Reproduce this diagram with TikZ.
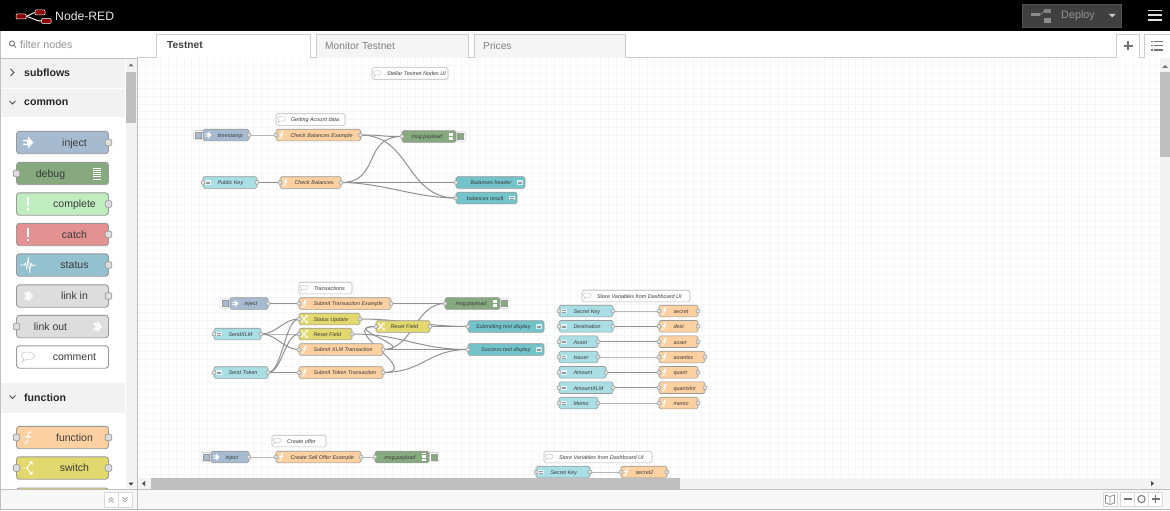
\documentclass[tikz,border=0pt]{standalone}
\usepackage{fontspec}
\setmainfont{Liberation Sans}
\usetikzlibrary{calc}
\pgfdeclarelayer{bg}\pgfdeclarelayer{wires}
\pgfsetlayers{bg,wires,main}
\definecolor{cinject}{HTML}{A6BBCF}
\definecolor{cdebug}{HTML}{87A980}
\definecolor{ccomplete}{HTML}{C0EDC0}
\definecolor{ccatch}{HTML}{E49191}
\definecolor{cstatus}{HTML}{94C1D0}
\definecolor{clink}{HTML}{DDDDDD}
\definecolor{cfunc}{HTML}{FDD0A2}
\definecolor{cswitch}{HTML}{E2D96E}
\definecolor{cinput}{HTML}{A9DEE5}
\definecolor{cout}{HTML}{72C3CA}
\definecolor{cborder}{HTML}{999999}
\definecolor{ctxt}{HTML}{3A3A3A}
\tikzset{
 fnode/.style={draw=cborder,line width=.6pt,rounded corners=1.6pt,inner sep=0pt,outer sep=0pt,anchor=west,font=\fontsize{5.45}{6}\selectfont\itshape,text=ctxt,text height=4.8pt,text depth=0pt},
 pnode/.style={draw=cborder,line width=.9pt,rounded corners=3pt,inner sep=0pt,outer sep=0pt,anchor=west,font=\fontsize{10.5}{12}\selectfont,text=ctxt,text height=8.5pt,text depth=1.5pt},
 port/.style={draw=cborder,fill=clink!85!white,line width=.5pt,circle,inner sep=0pt,minimum size=4pt},
 pport/.style={draw=cborder,fill=clink,line width=.7pt,rounded corners=1.5pt,inner sep=0pt,minimum size=6.6pt},
 wire/.style={draw=cborder!95!black,line width=1pt},
 ico/.style={fill=white,draw=none},
 icl/.style={draw=white,line width=.8pt,line cap=round},
 chrome/.style={inner sep=0pt,anchor=west},
 gridline/.style={draw=black!3.5,line width=.7pt}
}
% icons, centred on (0,0), about 10 units high
\newcommand{\icF}{\draw[icl,line width=1pt] (2.6,-4.8) .. controls (.4,-5.4) and (.2,-3) .. (0,0) .. controls (-.2,3) and (-.4,5.2) .. (-2.6,4.8) (-2.2,-.8) -- (2.2,-.8);}
\newcommand{\icArrow}{\fill[white] (-4,-2.2) -- (0,-2.2) -- (0,-5) -- (4.4,0) -- (0,5) -- (0,2.2) -- (-4,2.2) -- (-4,.9) -- (-.8,.9) -- (-.8,-.9) -- (-4,-.9) -- cycle;}
\newcommand{\icLink}{\fill[white,opacity=.85] (-3.6,-3) -- (0,-3) -- (0,-5) -- (4.4,0) -- (0,5) -- (0,3) -- (-3.6,3) -- (-1.2,0) -- cycle;}
\newcommand{\icDebug}{\foreach \q in {-4.6,-2.7,-.9,.9,2.7,4.6}{\draw[white,line width=.8pt] (-3.4,\q) -- (3.4,\q);}}
\newcommand{\icAlert}{\fill[white] (-1.2,-5.5) rectangle (1.2,2); \fill[white] (-1.2,3.4) rectangle (1.2,5.8);}
\newcommand{\icWave}{\draw[white,line width=.7pt,line join=round] (-6.5,0) -- (-3.2,0) -- (-2.2,-2) -- (-1,3.5) -- (.2,-6.5) -- (1.4,6.5) -- (2.4,-2) -- (3.4,1) -- (4.2,0) -- (6.5,0);}
\newcommand{\icBubble}{\draw[black!22,line width=.5pt] (-5.5,-2) .. controls (-5.5,-5) and (5.5,-5) .. (5.5,-.8) .. controls (5.5,2) and (-.5,2.6) .. (-2,2.2) -- (-4.8,4) -- (-3.6,1.6) .. controls (-5,.8) and (-5.5,-.4) .. (-5.5,-2);}
\newcommand{\icSwitch}{\draw[icl,line width=.9pt] (-4,0) -- (-1,0) -- (2.5,-4.5) (-1,0) -- (2.5,4.5);\fill[white] (1,-5.5) -- (3.8,-5.5) -- (3.8,-2.5) -- cycle (1,5.5) -- (3.8,5.5) -- (3.8,2.5) -- cycle;}
\newcommand{\icChange}{\draw[icl,line width=.9pt] (-4,-4) -- (3,4) (-4,4) -- (3,-4);\fill[white] (1.5,-5.5) -- (4.5,-5.5) -- (4.5,-2.2) -- cycle (1.5,5.5) -- (4.5,5.5) -- (4.5,2.2) -- cycle;}
\newcommand{\icUi}{\fill[white,opacity=.7] (-4.2,-3) rectangle (4.2,3.2);\draw[cborder,line width=.3pt] (-3,-.8) -- (3,-.8) (-3,1) -- (3,1);}
% canvas node: id, x1, x2, yc, colour, label, icon macro
\newcommand{\LN}[8][both]{%
 \node[fnode,fill=#6,minimum width=#3pt-#2pt,minimum height=11.6pt,
  path picture={\fill[black,opacity=.08] (#2,#4-7) rectangle (#2+10.5,#4+7);}] (#5) at (#2,#4)
  {\makebox[\dimexpr#3pt-#2pt\relax][l]{\hspace*{14.5pt}#7}};
 \begin{scope}[shift={(#2+5.3,#4)},scale=.72]#8\end{scope}
 \ifnum\pdfstrcmp{#1}{out}=0\else\node[port] (#5-i) at (#5.west) {};\fi
 \ifnum\pdfstrcmp{#1}{in}=0\else\node[port] (#5-o) at (#5.east) {};\fi
}
% icon on the right, input port
\newcommand{\RN}[7]{%
 \node[fnode,fill=#5,minimum width=#3pt-#2pt,minimum height=11.6pt,
  path picture={\fill[black,opacity=.08] (#3-10,#4-7) rectangle (#3,#4+7);}] (#1) at (#2,#4)
  {\makebox[\dimexpr#3pt-#2pt\relax][r]{#6\hspace*{13.5pt}}};
 \begin{scope}[shift={(#3-5,#4)},scale=.72]#7\end{scope}
 \node[port] (#1-i) at (#1.west) {};
}
% comment: id, x1, x2, yc, text
\newcommand{\CM}[5]{%
 \node[fnode,draw=black!28,fill=white,minimum width=#3pt-#2pt,minimum height=11.6pt,
  path picture={\fill[black,opacity=.05] (#2,#4-7) rectangle (#2+10.5,#4+7);}] (#1) at (#2,#4)
  {\makebox[\dimexpr#3pt-#2pt\relax][l]{\hspace*{15pt}#5}};
 \begin{scope}[shift={(#2+5.3,#4)},scale=.72]\icBubble\end{scope}
}
% inject button (left) and debug button (right)
\newcommand{\BTN}[4]{%
 \node[draw=black!28,fill=white,rounded corners=1.5pt,inner sep=0pt,minimum width=10pt,minimum height=9.4pt] (#1) at (#2,#3) {};
 \fill[#4,draw=cborder,line width=.25pt] (#2-2.9,#3-2.9) rectangle (#2+2.9,#3+2.9);
}
% palette nodes: id, x1, x2, yc, colour, label, icon
\newcommand{\PL}[7]{%
 \node[pnode,fill=#5,minimum width=#3pt-#2pt,minimum height=22.4pt,
  path picture={\fill[black,opacity=.08] (#2,#4-12) rectangle (#2+24,#4+12);}] (#1) at (#2,#4)
  {\makebox[\dimexpr#3pt-#2pt\relax][c]{\hspace*{24pt}#6}};
 \begin{scope}[shift={(#2+11.5,#4)},scale=1.2]#7\end{scope}
}
\newcommand{\PR}[7]{%
 \node[pnode,fill=#5,minimum width=#3pt-#2pt,minimum height=22.4pt,
  path picture={\fill[black,opacity=.08] (#3-24,#4-12) rectangle (#3,#4+12);}] (#1) at (#2,#4)
  {\makebox[\dimexpr#3pt-#2pt\relax][c]{#6\hspace*{24pt}}};
 \begin{scope}[shift={(#3-11.5,#4)},scale=1.2]#7\end{scope}
}
\newcommand{\WW}[3][22]{\draw[wire] (#2.east) .. controls +(#1,0) and +(-#1,0) .. (#3.west);}
\begin{document}
\begin{tikzpicture}[x=1pt,y=-1pt]
\useasboundingbox (0,0) rectangle (1170,511);
\begin{pgfonlayer}{bg}
 \fill[white] (0,0) rectangle (1170,511);
 \foreach \i in {0,...,132}{\draw[gridline] (137.6+7.72*\i,58) -- (137.6+7.72*\i,478);}
 \foreach \i in {0,...,54}{\draw[gridline] (137,57.8+7.72*\i) -- (1170,57.8+7.72*\i);}
\end{pgfonlayer}

%----- flow 1
\CM{c0}{372}{448}{73.5}{Stellar Testnet Nodes UI}
\CM{c1}{276}{345}{119.5}{Getting Acount data}
\BTN{b1}{198.5}{135}{cinject}
\LN[out]{203}{249}{135}{t1}{cinject}{timestamp}{\icArrow}
\LN{276}{360.5}{135}{f1}{cfunc}{Check Balances Example}{\icF}
\BTN{b2}{460.5}{136.5}{cdebug}
\RN{d1}{402}{456}{136.5}{cdebug}{msg.payload}{\icDebug}
\LN{203}{257}{182.5}{p1}{cinput}{Public Key}{\icUi}
\LN{280}{341}{182.5}{f2}{cfunc}{Check Balances}{\icF}
\RN{u1}{456}{525}{182.5}{cout}{Balances header}{\icUi}
\RN{u2}{456}{517}{198}{cout}{balances result}{\icUi}

%----- flow 2
\CM{c2}{299}{352}{288}{Transactions}
\BTN{b3}{225}{303.5}{cinject}
\LN[out]{230}{268}{303.5}{t2}{cinject}{inject}{\icArrow}
\LN{299}{391}{303.5}{f3}{cfunc}{Submit Transaction Example}{\icF}
\BTN{b4}{504}{303.5}{cdebug}
\RN{d2}{445}{500}{303.5}{cdebug}{msg.payload}{\icDebug}
\LN{299}{360}{319}{s1}{cswitch}{Status Update}{\icChange}
\LN{299}{352}{334}{s2}{cswitch}{Reset Field}{\icChange}
\LN{376}{430}{326.5}{s3}{cswitch}{Reset Field}{\icChange}
\LN{214}{261}{334}{k1}{cinput}{SendXLM}{\icUi}
\LN{299}{383}{349.5}{f4}{cfunc}{Submit XLM Transaction}{\icF}
\LN{214}{268}{372.5}{k2}{cinput}{Send Token}{\icUi}
\LN{299}{383}{372.5}{f5}{cfunc}{Submit Token Transaction}{\icF}
\RN{u3}{468}{544}{326.5}{cout}{Submitting text display}{\icUi}
\RN{u4}{468}{544}{349.5}{cout}{Success text display}{\icUi}

%----- store variables
\CM{c3}{582}{690}{296}{Store Variables from Dashboard UI}
\LN{559}{613}{311}{v1}{cinput}{Secret Key}{\icUi}
\LN{559}{613}{326.3}{v2}{cinput}{Destination}{\icUi}
\LN{559}{598}{341.7}{v3}{cinput}{Asset}{\icUi}
\LN{559}{598}{357}{v4}{cinput}{Issuer}{\icUi}
\LN{559}{606}{372.3}{v5}{cinput}{Amount}{\icUi}
\LN{559}{613}{387.7}{v6}{cinput}{AmountXLM}{\icUi}
\LN{559}{598}{403}{v7}{cinput}{Memo}{\icUi}
\LN{659}{698}{311}{w1}{cfunc}{secret}{\icF}
\LN{659}{698}{326.3}{w2}{cfunc}{dest}{\icF}
\LN{659}{698}{341.7}{w3}{cfunc}{asset}{\icF}
\LN{659}{705}{357}{w4}{cfunc}{assetiss}{\icF}
\LN{659}{698}{372.3}{w5}{cfunc}{quant}{\icF}
\LN{659}{705}{387.7}{w6}{cfunc}{quantxlm}{\icF}
\LN{659}{698}{403}{w7}{cfunc}{memo}{\icF}

%----- flow 3
\CM{c4}{272}{326}{441}{Create offer}
\BTN{b5}{206}{457}{cinject}
\LN[out]{211}{249}{457}{t3}{cinject}{inject}{\icArrow}
\LN{276}{361}{457}{f6}{cfunc}{Create Sell Offer Example}{\icF}
\BTN{b6}{434}{457}{cdebug}
\RN{d3}{375}{429}{457}{cdebug}{msg.payload}{\icDebug}
\CM{c5}{544}{652}{457}{Store Variables from Dashboard UI}
\LN{536}{590}{472}{v8}{cinput}{Secret Key}{\icUi}
\LN{621}{667}{472}{w8}{cfunc}{secret2}{\icF}

%----- wires
\begin{pgfonlayer}{wires}
 \WW{t1}{f1} \WW[26]{f1}{d1} \WW[50]{f1}{u2}
 \WW{p1}{f2} \WW[40]{f2}{d1} \WW[40]{f2}{u1} \WW[40]{f2}{u2}
 \WW{t2}{f3} \WW[26]{f3}{d2}
 \WW{t3}{f6} \WW[8]{f6}{d3}
 \WW[16]{k1}{s1} \WW[16]{k1}{s2} \WW[16]{k1}{f4}
 \WW[14]{k2}{s1} \WW[14]{k2}{s2} \WW[14]{k2}{f5}
 \WW[40]{s1}{u3} \WW[50]{s2}{u4}
 \WW[14]{s3}{u3}
 \WW[38]{f4}{s3} \WW[30]{f4}{d2} \WW[30]{f4}{u4}
 \WW[42]{f5}{s3} \WW[40]{f5}{u4}
 \foreach \n in {1,...,8}{\WW[25]{v\n}{w\n}}
\end{pgfonlayer}

%----- canvas scrollbars and footer
\fill[black!5] (137,478) rectangle (1170,489);
\fill[black!25] (151,478) rectangle (680,489);
\fill[black!70] (142,483.5) -- (145,481) -- (145,486) -- cycle;
\fill[black!70] (1154,483.5) -- (1151,481) -- (1151,486) -- cycle;
\fill[black!5] (1160,58) rectangle (1170,478);
\fill[black!25] (1160,72) rectangle (1170,157);
\fill[black!55] (1165,65) -- (1162,68) -- (1168,68) -- cycle;
\fill[black!3] (0,489) rectangle (1170,508.5);
\draw[black!25,line width=.8pt] (0,489) -- (1170,489);
\draw[black!28,line width=.9pt] (0,509) -- (1170,509);
\node[draw=black!15,fill=white,inner sep=0pt,minimum width=14pt,minimum height=14pt] (zmap) at (1110,499) {};
\draw[black!45,line width=.7pt,line join=round] (1105.5,495) -- (1110,496.5) -- (1114.5,495) -- (1114.5,503) -- (1110,504.5) -- (1105.5,503) -- cycle (1110,496.5) -- (1110,504.5);
\node[draw=black!15,fill=white,inner sep=0pt,minimum width=14pt,minimum height=14pt] (zm) at (1127.5,499) {};
\node[draw=black!15,fill=white,inner sep=0pt,minimum width=14pt,minimum height=14pt] (zr) at (1141.5,499) {};
\node[draw=black!15,fill=white,inner sep=0pt,minimum width=14pt,minimum height=14pt] (zp) at (1155.5,499) {};
\draw[black!55,line width=1.6pt] (1123.5,499) -- (1131.5,499) (1151.5,499) -- (1159.5,499) (1155.5,495) -- (1155.5,503);
\draw[black!55,line width=1pt] (1141.5,499) circle (3.6pt);

%----- palette
\fill[white] (0,31) rectangle (137,489);
\draw[black!25,line width=.8pt] (137,31) -- (137,511);
\draw[black!25,line width=.8pt] (.5,31) -- (.5,509);
\draw[black!25,line width=.8pt] (0,58.5) -- (137,58.5);
\fill[black!5] (1,59) rectangle (125,87.5);
\fill[black!5] (1,88.5) rectangle (125,116.5);
\fill[black!5] (1,383) rectangle (125,413);
\fill[black!5] (125.5,59) rectangle (137,489);
\fill[black!25] (126,72) rectangle (136,123);
\fill[black!55] (131,63.5) -- (128.5,66.5) -- (133.5,66.5) -- cycle;
\fill[black!80] (131,485.5) -- (128.5,482.5) -- (133.5,482.5) -- cycle;
\draw[black!55,line width=.9pt] (12,43.5) circle (2.6pt) (14,45.5) -- (16,47.5);
\node[chrome,font=\fontsize{10.7}{12}\selectfont,text=black!42] (filter) at (20,44.5) {filter nodes};
\draw[black!70,line width=.8pt] (10.5,69) -- (14,72.5) -- (10.5,76);
\node[chrome,font=\fontsize{10.6}{12}\bfseries,text=black!85] (h1) at (24,72.5) {subflows};
\draw[black!70,line width=.8pt] (9.5,101) -- (12.5,104) -- (15.5,101);
\node[chrome,font=\fontsize{10.6}{12}\bfseries,text=black!85] (h2) at (24,102.5) {common};
\draw[black!70,line width=.8pt] (9.5,395.5) -- (12.5,398.5) -- (15.5,395.5);
\node[chrome,font=\fontsize{10.6}{12}\bfseries,text=black!85] (h3) at (24,397.5) {function};

\PL{n1}{16.5}{108.5}{142.5}{cinject}{inject}{\icArrow}
\node[pport] (n1o) at (n1.east) {};
\PR{n2}{16.5}{108.5}{173.5}{cdebug}{debug}{\icDebug}
\node[pport] (n2i) at (n2.west) {};
\PL{n3}{16.5}{108.5}{204}{ccomplete}{complete}{\icAlert}
\node[pport] (n3o) at (n3.east) {};
\PL{n4}{16.5}{108.5}{234.5}{ccatch}{catch}{\icAlert}
\node[pport] (n4o) at (n4.east) {};
\PL{n5}{16.5}{108.5}{265}{cstatus}{status}{\icWave}
\node[pport] (n5o) at (n5.east) {};
\PL{n6}{16.5}{108.5}{296}{clink}{link in}{\icLink}
\node[pport] (n6o) at (n6.east) {};
\PR{n7}{16.5}{108.5}{326.5}{clink}{link out}{\icLink}
\node[pport] (n7i) at (n7.west) {};
\PL{n8}{16.5}{108.5}{357}{white}{comment}{\icBubble}
\PL{n9}{16.5}{108.5}{437.5}{cfunc}{function}{\icF}
\node[pport] (n9i) at (n9.west) {};\node[pport] (n9o) at (n9.east) {};
\PL{n10}{16.5}{108.5}{468}{cswitch}{switch}{\icSwitch}
\node[pport] (n10i) at (n10.west) {};\node[pport] (n10o) at (n10.east) {};
\fill[cswitch,draw=cborder,line width=.9pt,rounded corners=3pt] (16.5,488) rectangle (108.5,500);
\fill[black!3] (.9,489.5) rectangle (136.6,508.5);
\draw[black!25,line width=.8pt] (0,489) -- (137,489);
\node[draw=black!15,fill=white,inner sep=0pt,minimum width=14pt,minimum height=14.5pt] (pa) at (111,499.5) {};
\node[draw=black!15,fill=white,inner sep=0pt,minimum width=14pt,minimum height=14.5pt] (pb) at (125,499.5) {};
\draw[black!45,line width=.6pt] (108.5,500) -- (111,497.5) -- (113.5,500) (108.5,502.5) -- (111,500) -- (113.5,502.5);
\draw[black!45,line width=.6pt] (122.5,497) -- (125,499.5) -- (127.5,497) (122.5,499.5) -- (125,502) -- (127.5,499.5);

%----- tabs
\fill[white] (137.4,31) rectangle (1160,58);
\draw[black!20,line width=.7pt] (137,57.8) -- (1170,57.8);
\fill[black!4,draw=black!20,line width=.7pt] (316,58) -- (316,34) -- (468,34) -- (468,58);
\fill[black!4,draw=black!20,line width=.7pt] (474,58) -- (474,34) -- (625,34) -- (625,58);
\fill[white,draw=black!20,line width=.7pt] (156.5,58) -- (156.5,34) -- (310,34) -- (310,58);
\node[chrome,font=\fontsize{10.2}{12}\bfseries,text=black!75] (tab1) at (167,45.5) {Testnet};
\node[chrome,font=\fontsize{10.2}{12}\selectfont,text=black!50] (tab2) at (325,45.5) {Monitor Testnet};
\node[chrome,font=\fontsize{10.2}{12}\selectfont,text=black!50] (tab3) at (483,45.5) {Prices};
\fill[white,draw=black!20,line width=.7pt] (1116,58) -- (1116,34) -- (1139.5,34) -- (1139.5,58);
\fill[white,draw=black!20,line width=.7pt] (1144.5,58) -- (1144.5,34) -- (1170.5,34) -- (1170.5,58);
\draw[black!55,line width=1.6pt] (1123.5,46) -- (1132.5,46) (1128,41.5) -- (1128,50.5);
\draw[black!55,line width=1.1pt] (1154,41.5) -- (1163,41.5) (1154,45.7) -- (1163,45.7) (1154,50) -- (1163,50);
\draw[black!55,line width=1.1pt] (1151,41.5) -- (1152.6,41.5) (1151,45.7) -- (1152.6,45.7) (1151,50) -- (1152.6,50);

%----- header bar
\fill[black] (0,0) rectangle (1170,31);
\begin{scope}[line width=.5pt]
 \draw[white,line width=.9pt] (24,16.5) .. controls (30,16.5) and (31,12.5) .. (36,12.5);
 \draw[white,line width=.9pt] (24,16.5) .. controls (32,16.5) and (34,21) .. (42,21);
 \fill[red!55!black,draw=white!75,rounded corners=1pt] (16,14) rectangle (26,19);
 \fill[red!55!black,draw=white!75,rounded corners=1pt] (35,10) rectangle (45,15);
 \fill[red!55!black,draw=white!75,rounded corners=1pt] (41.5,18.5) rectangle (51,23.5);
\end{scope}
\node[chrome,font=\fontsize{12.2}{14}\selectfont,text=white!90!black] (logo) at (55,16.5) {Node-RED};
\node[fill=black!75,draw=black!68,line width=.5pt,inner sep=0pt,minimum width=99pt,minimum height=23pt,anchor=west] (deploy) at (1022,15.5) {};
\fill[black!45] (1031,13.5) rectangle (1040,16.5);
\draw[black!45,line width=.7pt] (1040,15) -- (1044,11);
\fill[black!50] (1044,9) rectangle (1051,13);
\fill[black!45] (1044,18.5) rectangle (1051,23);
\node[chrome,font=\fontsize{10.8}{12}\selectfont,text=black!42] (dtext) at (1061,15.5) {Deploy};
\fill[black!20] (1109,14) -- (1115.5,14) -- (1112.2,17.5) -- cycle;
\draw[white!88!black,line width=1.7pt] (1148,10.5) -- (1162,10.5) (1148,15.3) -- (1162,15.3) (1148,20) -- (1162,20);
\end{tikzpicture}
\end{document}
